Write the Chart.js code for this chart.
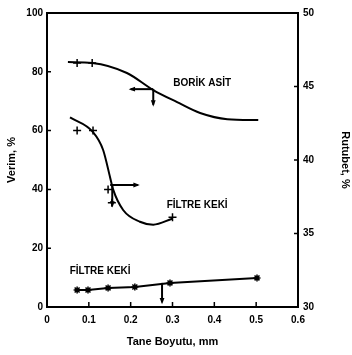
<!DOCTYPE html>
<html>
<head>
<meta charset="utf-8">
<script src="https://cdn.jsdelivr.net/npm/chart.js@4/dist/chart.umd.min.js"></script>
<style>
  html, body { margin: 0; padding: 0; background: #fff; }
  #wrap { width: 352px; height: 355px; }
</style>
</head>
<body>
<div id="wrap"><canvas id="lineChart" width="352" height="355"></canvas></div>
<script>
// boric acid yield curve (left axis, Verim %)
const boricCurveX = [0.05, 0.108, 0.191, 0.254, 0.311, 0.366, 0.431, 0.505];
const boricCurveY = [83.3, 83.0, 79.6, 73.8, 69.7, 66.0, 63.9, 63.6];
const boricPointX = [0.072, 0.108];
const boricPointY = [83.0, 83.0];

// filter cake moisture curve (right axis, Rutubet %)
const cakeMoistCurveX = [0.055, 0.110, 0.134, 0.151, 0.158, 0.182, 0.222, 0.254, 0.299];
const cakeMoistCurveY = [42.9, 41.9, 40.7, 38.8, 38.0, 36.6, 35.8, 35.6, 36.0];
const cakeMoistPointX = [0.072, 0.110, 0.146, 0.155, 0.30];
const cakeMoistPointY = [42.0, 42.0, 38.0, 37.1, 36.1];

// filter cake yield (left axis)
const cakeYieldX = [0.067, 0.072, 0.098, 0.146, 0.21, 0.294, 0.502];
const cakeYieldY = [5.8, 5.8, 5.8, 6.5, 6.8, 8.2, 9.9];
const cakeYieldPointX = [0.072, 0.098, 0.146, 0.21, 0.294, 0.502];
const cakeYieldPointY = [5.8, 5.8, 6.5, 6.8, 8.2, 9.9];

// axis ticks
const xTicks = [0, 0.1, 0.2, 0.3, 0.4, 0.5, 0.6];
const leftTicks = [0, 20, 40, 60, 80, 100];
const rightTicks = [30, 35, 40, 45, 50];

// reading arrows: [x1, y1, x2, y2, axis]
const arrows = [
  [0.254, 74.1, 0.200, 74.1, "y"],
  [0.254, 74.1, 0.254, 68.8, "y"],
  [0.151, 38.3, 0.217, 38.3, "y2"],
  [0.156, 38.3, 0.156, 36.9, "y2"],
  [0.275, 8.2, 0.275, 1.6, "y"]
];

// curve names: [text, x, y]
const curveLabels = [
  ["BORİK ASİT", 0.371, 76.2],
  ["FİLTRE KEKİ", 0.359, 34.7],
  ["FİLTRE KEKİ", 0.127, 12.2]
];

const pts = (xs, ys) => xs.map((x, i) => ({ x: x, y: ys[i] }));

const tickFont = { family: "'Liberation Sans', Arial, sans-serif", size: 10, weight: "bold" };
const titleFont = { family: "'Liberation Sans', Arial, sans-serif", size: 11, weight: "bold" };

const extras = {
  id: "extras",
  afterDatasetsDraw(chart) {
    const ctx = chart.ctx;
    const a = chart.chartArea;
    const sx = chart.scales.x;
    ctx.save();
    ctx.strokeStyle = "#000";
    ctx.fillStyle = "#000";
    // top frame line
    ctx.lineWidth = 2;
    ctx.beginPath();
    ctx.moveTo(a.left, a.top);
    ctx.lineTo(a.right, a.top);
    ctx.stroke();
    // inward ticks
    ctx.lineWidth = 1.5;
    ctx.beginPath();
    xTicks.forEach(v => {
      const p = sx.getPixelForValue(v);
      ctx.moveTo(p, a.bottom);
      ctx.lineTo(p, a.bottom - 5);
    });
    leftTicks.forEach(v => {
      const p = chart.scales.y.getPixelForValue(v);
      ctx.moveTo(a.left, p);
      ctx.lineTo(a.left + 4, p);
    });
    rightTicks.forEach(v => {
      const p = chart.scales.y2.getPixelForValue(v);
      ctx.moveTo(a.right, p);
      ctx.lineTo(a.right - 4, p);
    });
    ctx.stroke();
    // arrows
    ctx.lineWidth = 2;
    arrows.forEach(([x1, y1, x2, y2, ax]) => {
      const sy = chart.scales[ax];
      const px1 = sx.getPixelForValue(x1), py1 = sy.getPixelForValue(y1);
      const px2 = sx.getPixelForValue(x2), py2 = sy.getPixelForValue(y2);
      ctx.beginPath();
      ctx.moveTo(px1, py1);
      ctx.lineTo(px2, py2);
      ctx.stroke();
      const ang = Math.atan2(py2 - py1, px2 - px1);
      ctx.beginPath();
      ctx.moveTo(px2 + Math.cos(ang) * 2, py2 + Math.sin(ang) * 2);
      ctx.lineTo(px2 - Math.cos(ang - 0.5) * 5, py2 - Math.sin(ang - 0.5) * 5);
      ctx.lineTo(px2 - Math.cos(ang + 0.5) * 5, py2 - Math.sin(ang + 0.5) * 5);
      ctx.closePath();
      ctx.fill();
    });
    // curve names
    ctx.font = "bold 10px 'Liberation Sans', Arial, sans-serif";
    ctx.textAlign = "center";
    ctx.textBaseline = "middle";
    curveLabels.forEach(([t, x, y]) => {
      ctx.fillText(t, sx.getPixelForValue(x), chart.scales.y.getPixelForValue(y));
    });
    ctx.restore();
  }
};

const line = (data, axis) => ({
  data: data, yAxisID: axis, borderColor: "#000", borderWidth: 2,
  pointRadius: 0, cubicInterpolationMode: "monotone", fill: false
});
const marks = (data, axis, style, r) => ({
  data: data, yAxisID: axis, showLine: false, pointStyle: style,
  pointRadius: r, borderColor: "#000", backgroundColor: "#000", borderWidth: 1.5
});

new Chart(document.getElementById("lineChart"), {
  type: "line",
  data: {
    datasets: [
      line(pts(boricCurveX, boricCurveY), "y"),
      marks(pts(boricPointX, boricPointY), "y", "cross", 4),
      line(pts(cakeMoistCurveX, cakeMoistCurveY), "y2"),
      marks(pts(cakeMoistPointX, cakeMoistPointY), "y2", "cross", 4),
      { ...line(pts(cakeYieldX, cakeYieldY), "y"), cubicInterpolationMode: "default", tension: 0 },
      marks(pts(cakeYieldPointX, cakeYieldPointY), "y", "star", 3.5)
    ]
  },
  plugins: [extras],
  options: {
    responsive: false,
    animation: false,
    layout: { padding: { top: 13, left: 0, right: 0, bottom: 0 } },
    plugins: { legend: { display: false }, tooltip: { enabled: false } },
    scales: {
      x: {
        type: "linear", min: 0, max: 0.6,
        afterBuildTicks: s => { s.ticks = xTicks.map(v => ({ value: v })); },
        afterFit: s => { s.height = 48; },
        ticks: {
          color: "#000", font: tickFont, padding: 7, maxRotation: 0,
          callback: v => (v === 0 ? "0" : v.toFixed(1))
        },
        grid: { drawOnChartArea: false, drawTicks: false },
        border: { display: true, color: "#000", width: 2 },
        title: { display: true, text: "Tane Boyutu, mm", color: "#000", font: titleFont, padding: { top: 0, bottom: 6 } }
      },
      y: {
        position: "left", min: 0, max: 100,
        afterBuildTicks: s => { s.ticks = leftTicks.map(v => ({ value: v })); },
        afterFit: s => { s.width = 47; },
        ticks: { color: "#000", font: tickFont, padding: 4 },
        grid: { drawOnChartArea: false, drawTicks: false },
        border: { display: true, color: "#000", width: 2 },
        title: { display: true, text: "Verim, %", color: "#000", font: titleFont, padding: { top: 5, bottom: 0 } }
      },
      y2: {
        position: "right", min: 30, max: 50,
        afterBuildTicks: s => { s.ticks = rightTicks.map(v => ({ value: v })); },
        afterFit: s => { s.width = 54; },
        ticks: { color: "#000", font: tickFont, padding: 5 },
        grid: { drawOnChartArea: false, drawTicks: false },
        border: { display: true, color: "#000", width: 2 },
        title: { display: true, text: "Rutubet, %", color: "#000", font: titleFont, padding: { top: 0, bottom: 1 } }
      }
    }
  }
});
</script>
</body>
</html>
